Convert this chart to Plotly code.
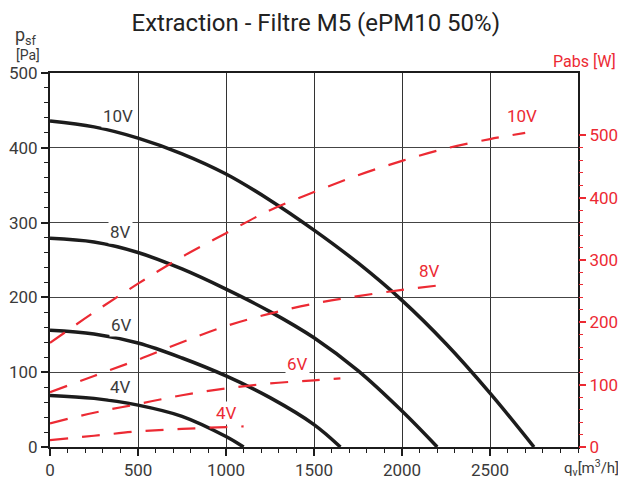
import plotly.graph_objects as go

# Fan curves: static pressure psf [Pa] vs airflow qv [m3/h]
Q_10V = [0, 250, 500, 750, 1000, 1250, 1500, 1750, 2000, 2250, 2500, 2750]
P_10V = [436, 428, 413, 392, 365, 330, 290, 246, 196, 138, 72, 0]
Q_8V = [0, 250, 500, 750, 1000, 1250, 1500, 1750, 2000, 2200]
P_8V = [279, 274, 260, 238, 211, 181, 146, 102, 48, 0]
Q_6V = [0, 250, 500, 750, 1000, 1250, 1500, 1650]
P_6V = [156, 151, 139, 119, 95, 66, 30, 0]
Q_4V = [0, 250, 500, 750, 1000, 1100]
P_4V = [69, 65, 56, 41, 14, 0]

# Absorbed power Pabs [W]
W_Q_10V = [0, 250, 500, 750, 1000, 1250, 1500, 1750, 2000, 2250, 2500, 2700]
W_10V = [167, 216, 262, 305, 343, 380, 409, 436, 459, 479, 494, 504]
W_Q_8V = [0, 250, 500, 750, 1000, 1250, 1500, 1750, 2000, 2200]
W_8V = [88, 114, 140, 168, 194, 214, 230, 242, 252, 259]
W_Q_6V = [0, 250, 500, 750, 1000, 1250, 1500, 1650]
W_6V = [38, 55, 69, 83, 94, 102, 107, 110]
W_Q_4V = [0, 250, 500, 750, 1000, 1100]
W_4V = [11, 18, 25, 29, 32, 33]

X_TICKS = [0, 500, 1000, 1500, 2000, 2500]
Y_TICKS = [0, 100, 200, 300, 400, 500]
Y2_TICKS = [0, 100, 200, 300, 400, 500]

RED = "#ec2a33"
BLACK = "#1c1c1c"
GREY = "#3a3a3a"
FONT = "Roboto"

fig = go.Figure()

for q, p in [(Q_10V, P_10V), (Q_8V, P_8V), (Q_6V, P_6V), (Q_4V, P_4V)]:
    fig.add_trace(go.Scatter(x=q, y=p, mode="lines", line=dict(color=BLACK, width=3.5, shape="spline"),
                             showlegend=False, hoverinfo="skip"))

for q, w in [(W_Q_10V, W_10V), (W_Q_8V, W_8V), (W_Q_6V, W_6V), (W_Q_4V, W_4V)]:
    fig.add_trace(go.Scatter(x=q, y=w, mode="lines", yaxis="y2",
                             line=dict(color=RED, width=2.2, dash="18px,14px", shape="spline"),
                             showlegend=False, hoverinfo="skip"))

# curve labels (in pressure coords)
labels = [
    ("10V", 385, 442, GREY), ("8V", 398, 287, GREY), ("6V", 407, 163, GREY), ("4V", 403, 80, GREY),
    ("10V", 2680, 442, RED), ("8V", 2159, 235, RED), ("6V", 1405, 111, RED), ("4V", 1004, 45, RED),
]
for txt, x, y, c in labels:
    fig.add_annotation(x=x, y=y, xref="x", yref="y", text=txt, showarrow=False,
                       font=dict(family=FONT, size=17, color=c), bgcolor="white", borderpad=1)

# axis titles
fig.add_annotation(x=-0.045, y=1.098, xref="paper", yref="paper", text="p<sub>sf</sub>", showarrow=False,
                   xanchor="center", yanchor="middle", font=dict(family=FONT, size=18, color=GREY))
fig.add_annotation(x=-0.042, y=1.047, xref="paper", yref="paper", text="[Pa]", showarrow=False,
                   xanchor="center", yanchor="middle", font=dict(family=FONT, size=14, color=GREY))
fig.add_annotation(x=1.075, y=1.032, xref="paper", yref="paper", text="Pabs [W]", showarrow=False,
                   xanchor="right", yanchor="middle", font=dict(family=FONT, size=16, color=RED))
fig.add_annotation(x=0.97, y=-0.055, xref="paper", yref="paper", text="q<sub>v</sub>[m<sup>3</sup>/h]",
                   showarrow=False, xanchor="left", yanchor="middle",
                   font=dict(family=FONT, size=15, color=GREY))

# page body adds an 8px offset, so the figure is sized to fit inside the window
fig.update_layout(
    width=618, height=471,
    margin=dict(l=42, r=48, t=65, b=32, autoexpand=False),
    paper_bgcolor="white", plot_bgcolor="white",
    title=dict(text="Extraction - Filtre M5 (ePM10 50%)", x=0.498, xanchor="center", y=0.97,
               yanchor="middle", automargin=False, font=dict(family=FONT, size=24, color="#222")),
    xaxis=dict(range=[0, 3000], tickvals=X_TICKS, showgrid=True, gridcolor="#333", gridwidth=1.2,
               showline=True, linecolor=BLACK, linewidth=2, mirror=True, zeroline=False, automargin=False,
               ticks="outside", ticklen=7, tickcolor=BLACK, tickwidth=1.5,
               tickfont=dict(family=FONT, size=17, color=GREY),
               minor=dict(dtick=100, tick0=0, ticks="outside", ticklen=4, tickcolor=BLACK, tickwidth=1.2)),
    yaxis=dict(range=[0, 500], tickvals=Y_TICKS, showgrid=True, gridcolor="#444", gridwidth=1.2,
               showline=True, linecolor=BLACK, linewidth=2, mirror=True, zeroline=False, automargin=False,
               ticks="outside", ticklen=7, tickcolor=BLACK, tickwidth=1.5,
               tickfont=dict(family=FONT, size=17, color=GREY),
               minor=dict(dtick=20, tick0=0, ticks="outside", ticklen=4, tickcolor=BLACK, tickwidth=1.2)),
    yaxis2=dict(range=[0, 600], overlaying="y", side="right", tickvals=Y2_TICKS, showgrid=False,
                zeroline=False, showline=False, automargin=False,
                ticks="outside", ticklen=7, tickcolor=RED, tickwidth=1.5,
                tickfont=dict(family=FONT, size=17, color=RED),
                minor=dict(tickmode="array", tickvals=[v for v in range(20, 500, 20) if v % 100],
                           ticks="outside", ticklen=4, tickcolor=RED, tickwidth=1.2)),
)

fig.write_html("out.html")
